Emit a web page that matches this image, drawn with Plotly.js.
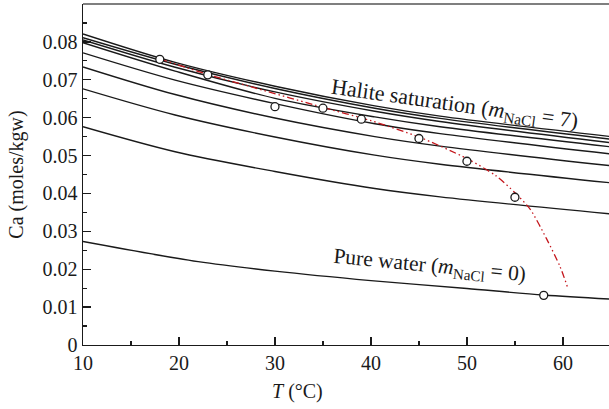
<!DOCTYPE html>
<html>
<head>
<meta charset="utf-8">
<script src="https://cdn.plot.ly/plotly-3.0.1.min.js"></script>
<style>
html,body{margin:0;padding:0;background:#fff;}
#chart{width:609px;height:409px;}
</style>
</head>
<body>
<div id="chart"></div>
<script>
// Model curves (Ca solubility vs T for several NaCl molalities)
const T_curve = [10, 19.6, 30, 40.4, 47.2, 65];
const curve1 = [0.0821, 0.0746, 0.0683, 0.0631, 0.0604, 0.0550]; // halite saturation, m=7
const curve2 = [0.0811, 0.0741, 0.0677, 0.0625, 0.0598, 0.0543];
const curve3 = [0.0805, 0.0733, 0.0668, 0.0617, 0.0590, 0.0534];
const curve4 = [0.0798, 0.0723, 0.0651, 0.0602, 0.0576, 0.0523];
const curve5 = [0.0771, 0.0699, 0.0637, 0.0584, 0.0558, 0.0504];
const curve6 = [0.0734, 0.0661, 0.0599, 0.0550, 0.0525, 0.0473];
const curve7 = [0.0676, 0.0607, 0.0549, 0.0501, 0.0477, 0.0428];
const curve8 = [0.0576, 0.0510, 0.0458, 0.0413, 0.0391, 0.0346];

// Pure water curve (m NaCl = 0)
const T_pure = [10, 22, 30, 40, 50, 58, 65];
const ca_pure = [0.0273, 0.0220, 0.0195, 0.0170, 0.0149, 0.0132, 0.0121];

// Measured points (open circles)
const T_obs = [18, 23, 30, 35, 39, 45, 50, 55, 58];
const ca_obs = [0.0754, 0.0713, 0.0629, 0.0625, 0.0596, 0.0545, 0.0485, 0.0390, 0.0131];

// Red dash-dot trend
const T_trend = [18, 23, 28, 35, 40, 45, 50, 53, 55, 56.6, 58.3, 59.7, 60.5];
const ca_trend = [0.0755, 0.0714, 0.0678, 0.0627, 0.0592, 0.0549, 0.0492, 0.0447, 0.0402, 0.0358, 0.0280, 0.0207, 0.0151];

// Tick labels
const yTickVals = [0, 0.01, 0.02, 0.03, 0.04, 0.05, 0.06, 0.07, 0.08];
const yTickText = ["0", "0.01", "0.02", "0.03", "0.04", "0.05", "0.06", "0.07", "0.08"];
const yMinorVals = [0.005, 0.015, 0.025, 0.035, 0.045, 0.055, 0.065, 0.075, 0.085];
const xTickVals = [10, 20, 30, 40, 50, 60];
const xTickText = ["10", "20", "30", "40", "50", "60"];
const xMinorVals = [15, 25, 35, 45, 55];

const FONT = "Liberation Serif, Times New Roman, serif";
const blackLine = {color: "#1a1a1a", width: 1.4, shape: "spline", smoothing: 0.9};

const curves = [curve1, curve2, curve3, curve4, curve5, curve6, curve7, curve8];
const traces = curves.map(c => ({
  x: T_curve, y: c, mode: "lines", line: blackLine, hoverinfo: "skip", showlegend: false
}));
traces.push({x: T_pure, y: ca_pure, mode: "lines", line: blackLine, showlegend: false});
traces.push({
  x: T_trend, y: ca_trend, mode: "lines", showlegend: false,
  line: {color: "#c4161c", width: 1.3, dash: "7px,3px,1.5px,3px,1.5px,3px", shape: "spline", smoothing: 0.7}
});
traces.push({
  x: T_obs, y: ca_obs, mode: "markers", showlegend: false,
  marker: {symbol: "circle", size: 8, color: "#ffffff", line: {color: "#1a1a1a", width: 1.3}}
});

const layout = {
  width: 609, height: 409,
  margin: {l: 83, r: 0, t: 4, b: 64},
  paper_bgcolor: "#ffffff", plot_bgcolor: "#ffffff",
  font: {family: FONT, size: 18, color: "#1a1a1a"},
  xaxis: {
    range: [10, 64.8], showgrid: false, zeroline: false,
    showline: true, linecolor: "#1a1a1a", linewidth: 1.4,
    tickmode: "array", tickvals: xTickVals, ticktext: xTickText,
    ticks: "inside", ticklen: 8, tickwidth: 1.3, tickcolor: "#1a1a1a",
    tickfont: {family: FONT, size: 20, color: "#1a1a1a"},
    minor: {tickmode: "array", tickvals: xMinorVals, ticks: "inside", ticklen: 4, tickwidth: 1.3, tickcolor: "#1a1a1a", showgrid: false}
  },
  yaxis: {
    range: [0, 0.09], showgrid: false, zeroline: false,
    showline: true, linecolor: "#1a1a1a", linewidth: 1.4,
    tickmode: "array", tickvals: yTickVals, ticktext: yTickText,
    ticks: "inside", ticklen: 8, tickwidth: 1.3, tickcolor: "#1a1a1a",
    tickfont: {family: FONT, size: 20, color: "#1a1a1a"},
    minor: {tickmode: "array", tickvals: yMinorVals, ticks: "inside", ticklen: 4, tickwidth: 1.3, tickcolor: "#1a1a1a", showgrid: false}
  },
  shapes: [
    {type: "line", xref: "paper", yref: "paper", x0: 0, x1: 1, y0: 1, y1: 1,
     line: {color: "#555555", width: 1.5}}
  ],
  annotations: [
    {text: "Halite saturation (<i>m</i><sub>NaCl</sub> = 7)", x: 48.7, y: 0.0633,
     xref: "x", yref: "y", showarrow: false, textangle: 8, xanchor: "center", yanchor: "middle",
     font: {family: FONT, size: 22, color: "#1a1a1a"}},
    {text: "Pure water (<i>m</i><sub>NaCl</sub> = 0)", x: 46.1, y: 0.0206,
     xref: "x", yref: "y", showarrow: false, textangle: 5.5, xanchor: "center", yanchor: "middle",
     font: {family: FONT, size: 21.5, color: "#1a1a1a"}},
    {text: "<i>T</i> (°C)", x: 0.407, y: -(392 - 345) / 341, xref: "paper", yref: "paper", yanchor: "middle",
     showarrow: false, font: {family: FONT, size: 20, color: "#1a1a1a"}},
    {text: "Ca (moles/kgw)", x: -0.127, y: 0.5, xref: "paper", yref: "paper", textangle: -90,
     xanchor: "center", yanchor: "middle", showarrow: false,
     font: {family: FONT, size: 20, color: "#1a1a1a"}}
  ]
};

Plotly.newPlot("chart", traces, layout, {displayModeBar: false, staticPlot: true});
</script>
</body>
</html>
